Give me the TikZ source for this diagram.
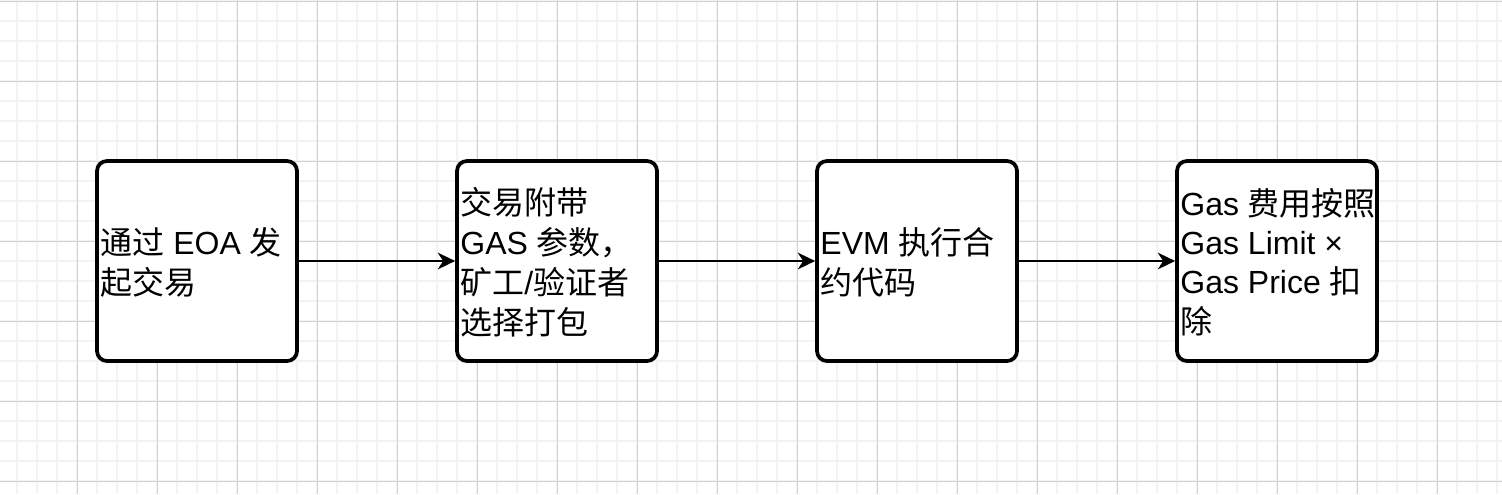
\documentclass[tikz,border=0pt]{standalone}
\usepackage{fontspec}
\setmainfont{Liberation Sans}
\newfontfamily\cjk{Noto Sans CJK SC}
\usetikzlibrary{arrows.meta,calc}
\definecolor{gridminor}{RGB}{243,243,243}
\definecolor{gridmajor}{RGB}{210,210,210}
\tikzset{
  stepbox/.style={draw=black, line width=2.8pt, rounded corners=7.5pt, fill=white,
    minimum width=150pt, minimum height=150pt, inner sep=0pt},
  boxtext/.style={anchor=west, align=left, inner sep=0pt,
    font=\fontsize{24pt}{28.8pt}\selectfont},
  flow/.style={draw=black, line width=1.5pt,
    -{Stealth[length=13pt,width=12.5pt,inset=4pt]}},
}
\begin{document}
\begin{tikzpicture}[x=0.75pt,y=-0.75pt]
\useasboundingbox (0,0) rectangle (1502,494);
\fill[white] (0,0) rectangle (1502,494);
% minor grid
\foreach \gx in {17,37,...,1502} \draw[gridminor, line width=1.2pt] (\gx,0) -- (\gx,494);
\foreach \gy in {1,21,...,494} \draw[gridminor, line width=1.2pt] (0,\gy) -- (1502,\gy);
% major grid
\foreach \gx in {77,157,...,1502} \draw[gridmajor, line width=0.75pt] (\gx,0) -- (\gx,494);
\foreach \gy in {1,81,...,494} \draw[gridmajor, line width=0.75pt] (0,\gy) -- (1502,\gy);

\node[stepbox] (b1) at (197,261) {};
\node[stepbox] (b2) at (557,261) {};
\node[stepbox] (b3) at (917,261) {};
\node[stepbox] (b4) at (1277,261) {};

\node[boxtext] (t1) at ($(b1.west)+(5,6)$) {\strut{\cjk 通过} EOA {\cjk 发}\\\strut{\cjk 起交易}};
\node[boxtext] (t2) at ($(b2.west)+(5,6)$) {\strut{\cjk 交易附带}\\\strut GAS {\cjk 参数，}\\\strut{\cjk 矿工}/{\cjk 验证者}\\\strut{\cjk 选择打包}};
\node[boxtext] (t3) at ($(b3.west)+(5,6)$) {\strut EVM {\cjk 执行合}\\\strut{\cjk 约代码}};
\node[boxtext] (t4) at ($(b4.west)+(5,6)$) {\strut Gas {\cjk 费用按照}\\\strut Gas Limit ×\\\strut Gas Price {\cjk 扣}\\\strut{\cjk 除}};

\draw[flow] (b1) -- (b2);
\draw[flow] (b2) -- (b3);
\draw[flow] (b3) -- (b4);
\end{tikzpicture}
\end{document}
